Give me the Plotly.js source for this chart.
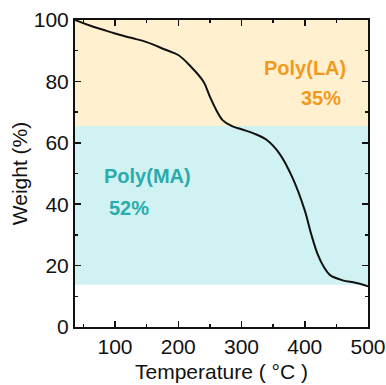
<!DOCTYPE html>
<html>
<head>
<meta charset="utf-8">
<script src="https://cdn.plot.ly/plotly-3.0.1.min.js"></script>
<style>html,body{margin:0;padding:0;background:#fff;}#chart{width:386px;height:385px;}</style>
</head>
<body>
<div id="chart"></div>
<script>
const temperature = [36.7, 60, 80, 100, 125, 150, 180, 200, 220, 240, 250, 260, 270, 285, 300, 320, 340, 360, 380, 400, 410, 420, 430, 440, 460, 480, 500];
const weight      = [100, 98.2, 96.9, 95.6, 94.2, 92.8, 90.3, 88.6, 84.8, 79.9, 75.0, 70.7, 67.4, 65.4, 64.4, 63.0, 60.9, 56.5, 48.9, 38.0, 30.4, 23.9, 19.6, 16.9, 15.2, 14.4, 13.3];
const bandLA = [65.5, 100];
const bandMA = [13.8, 65.5];
const labels = ["Poly(LA)", "35%", "Poly(MA)", "52%"];
const labelX = [400, 426, 152, 122];
const labelY = [84.3, 74.6, 49.1, 38.7];
const xTicks = [100, 200, 300, 400, 500];
const yTicks = [0, 20, 40, 60, 80, 100];

const orange = "#F39A1E", cyan = "#2AABAD";
const labelColors = [orange, orange, cyan, cyan];

const trace = {x: temperature, y: weight, mode: "lines", line: {color: "#111", width: 2, shape: "spline"}, hoverinfo: "none"};

const layout = {
  width: 386, height: 385,
  margin: {l: 75, r: 18, t: 20, b: 58},
  paper_bgcolor: "#fff", plot_bgcolor: "#fff",
  showlegend: false,
  font: {family: "Liberation Sans, Arial, sans-serif", color: "#111"},
  xaxis: {
    range: [36.7, 500], tickvals: xTicks, ticktext: xTicks.map(String),
    ticks: "inside", ticklen: 6, tickwidth: 1.5, tickcolor: "#111",
    minor: {dtick: 50, tick0: 0, ticks: "inside", ticklen: 3, tickwidth: 1.5, tickcolor: "#111"},
    showline: true, linewidth: 2, linecolor: "#111", mirror: "allticks",
    showgrid: false, zeroline: false,
    tickfont: {size: 21, color: "#111"},
    title: {text: "Temperature ( °C )", font: {size: 21, color: "#111"}, standoff: 7}
  },
  yaxis: {
    range: [0, 100], tickvals: yTicks, ticktext: yTicks.map(String),
    ticks: "inside", ticklen: 6, tickwidth: 1.5, tickcolor: "#111",
    minor: {dtick: 10, tick0: 0, ticks: "inside", ticklen: 3, tickwidth: 1.5, tickcolor: "#111"},
    showline: true, linewidth: 2, linecolor: "#111", mirror: "allticks",
    showgrid: false, zeroline: false,
    tickfont: {size: 21, color: "#111"},
    title: {text: "Weight (%)", font: {size: 21, color: "#111"}, standoff: 0}
  },
  shapes: [
    {type: "rect", xref: "paper", yref: "y", x0: 0, x1: 1, y0: bandLA[0], y1: bandLA[1], fillcolor: "#FFF1CF", line: {width: 0}, layer: "below"},
    {type: "rect", xref: "paper", yref: "y", x0: 0, x1: 1, y0: bandMA[0], y1: bandMA[1], fillcolor: "#D1F2F2", line: {width: 0}, layer: "below"}
  ],
  annotations: labels.map((t, i) => ({
    x: labelX[i], y: labelY[i], xref: "x", yref: "y", text: "<b>" + t + "</b>", showarrow: false,
    font: {size: 20, color: labelColors[i], family: "Liberation Sans, Arial, sans-serif"}
  }))
};

Plotly.newPlot("chart", [trace], layout, {staticPlot: true, displayModeBar: false});
</script>
</body>
</html>
